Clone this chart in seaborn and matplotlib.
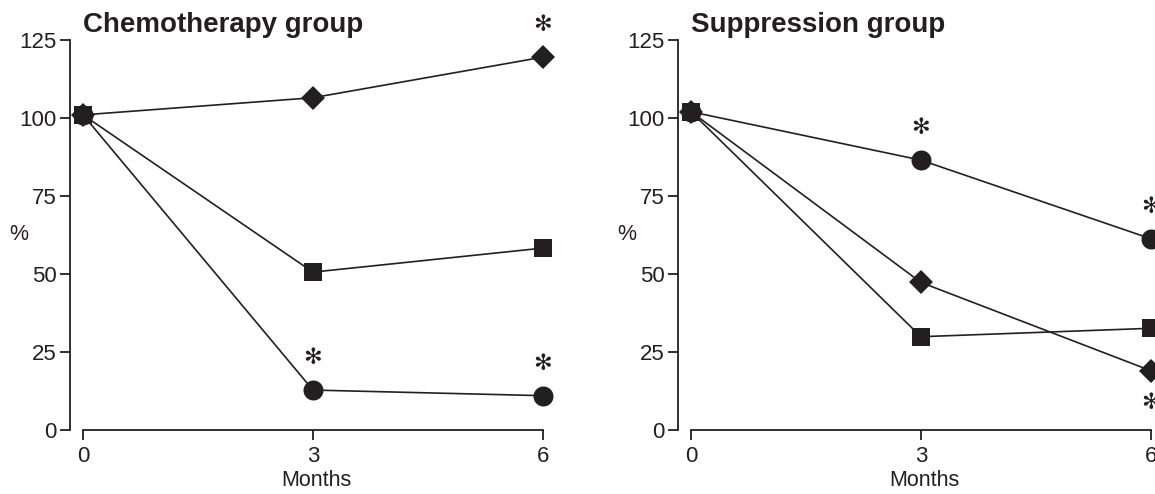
import matplotlib
matplotlib.use("Agg")
import matplotlib.pyplot as plt
import seaborn as sns

# Months after start
months = [0, 3, 6]

# Chemotherapy group, % of baseline
chemo_diamond = [101, 106.5, 119.5]
chemo_square = [101, 50.6, 58.3]
chemo_circle = [101, 12.8, 11.0]

# Suppression group, % of baseline
supp_circle = [102, 86.5, 61.3]
supp_diamond = [102, 47.3, 19.0]
supp_square = [102, 29.9, 32.6]

# where the significance stars go (month, value, above/below)
chemo_stars = [(6, 119.5, 1), (3, 12.8, 1), (6, 11.0, 1)]
supp_stars = [(3, 86.5, 1), (6, 61.3, 1), (6, 19.0, -1)]

ink = '#231f20'

sns.set_style('ticks')
plt.rcParams['font.family'] = ['Liberation Sans', 'DejaVu Sans']

fig = plt.figure(figsize=(11.55, 4.94), dpi=100)
ax1 = fig.add_axes([70 / 1155, 64 / 494, 0.426, 390 / 494])
ax2 = fig.add_axes([678 / 1155, 64 / 494, 0.426, 390 / 494])

panels = [
    (ax1, 'Chemotherapy group',
     [(chemo_diamond, 'D', 12.7), (chemo_square, 's', 12.5), (chemo_circle, 'o', 14.4)],
     chemo_stars),
    (ax2, 'Suppression group',
     [(supp_circle, 'o', 14.4), (supp_diamond, 'D', 12.7), (supp_square, 's', 12.5)],
     supp_stars),
]

for ax, title, series, stars in panels:
    for vals, mk, ms in series:
        sns.lineplot(x=months, y=vals, marker=mk, markersize=ms, color=ink,
                     linewidth=1.2, markeredgewidth=0, clip_on=False, ax=ax)
    for mx, my, side in stars:
        ax.text(mx, my + side * 7, '\u273b', ha='center',
                va='bottom' if side > 0 else 'top', fontsize=16,
                color=ink, family=['DejaVu Sans'], clip_on=False)

    ax.set_xlim(-0.17, 6.25)
    ax.set_ylim(0, 125)
    ax.set_xticks(months)
    ax.set_yticks([0, 25, 50, 75, 100, 125])
    sns.despine(ax=ax)
    ax.spines['bottom'].set_bounds(0, 6)
    ax.spines['left'].set_bounds(0, 125)
    for s in ['bottom', 'left']:
        ax.spines[s].set_linewidth(1.3)
        ax.spines[s].set_color(ink)
    ax.tick_params(length=7, width=1.3, color=ink, labelsize=16,
                   labelcolor=ink, pad=2.5)
    ax.tick_params(axis='x', pad=4.5)
    ax.set_xlabel('Months', fontsize=15.5, color=ink, labelpad=2)
    ax.set_ylabel('%', fontsize=15.5, color=ink, rotation=0)
    ax.yaxis.set_label_coords(-0.105, 0.475)
    ax.text(0, 127.5, title, ha='left', va='baseline', fontsize=20,
            fontweight='bold', color=ink, clip_on=False)

fig.savefig('out.png', dpi=100)
